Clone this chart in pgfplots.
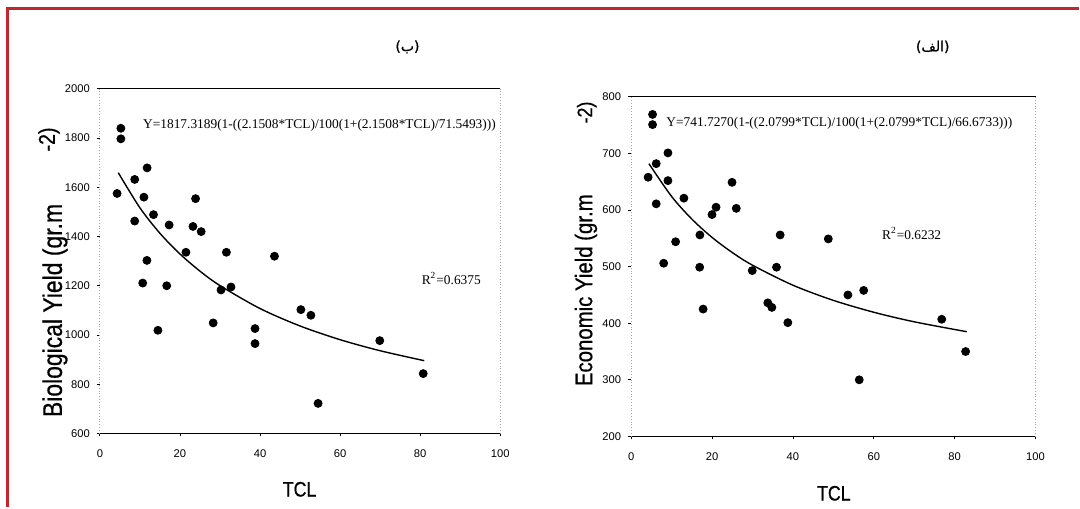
\documentclass[border=0pt]{standalone}
\usepackage{fontspec}
\setmainfont{Liberation Serif}
\setsansfont{Liberation Sans}
\newfontfamily\labelfont[FakeStretch=0.85, FakeBold=0.6]{Liberation Sans}
\newfontfamily\arabicfont[Script=Arabic, FakeBold=0.8]{DejaVu Sans}
\TeXXeTstate=1
\usepackage{pgfplots}
\pgfplotsset{compat=1.18}
\definecolor{frame}{RGB}{193,39,45}

% biological yield (b)
\pgfplotstableread{
x y
5.25 1840
5.25 1797
4.3 1575
8.7 1632
11.8 1679
11.0 1560
8.7 1463
13.4 1489
17.3 1447
23.9 1554
23.25 1441
25.3 1420
21.5 1336
31.6 1336
43.6 1320
11.75 1303
10.7 1211
16.7 1200
14.5 1019
28.3 1049
30.25 1183
32.75 1195
38.75 1026
38.75 965
50.2 1103
52.7 1080
69.9 977
80.75 843
54.5 722
}\biodata

\pgfplotstableread{
x y
4.6 1659.3
10 1516.8
15 1413.2
20 1329.1
25 1259.4
30 1200.7
40 1107.4
50 1036.5
60 980.8
70 935.9
81 895.6
}\biofit

% economic yield (alef)
\pgfplotstableread{
x y
5.3 769
5.3 751
4.2 658
6.2 682
9.1 701
9.1 652
6.2 611
13.05 621
11.0 544
8.05 506
17.0 556
16.95 499
20.0 592
21.0 605
24.95 649
26.0 603
36.85 556
29.95 493
35.95 499
17.8 425
33.8 436
34.8 428
38.75 401
48.75 549
53.6 450
57.5 458
76.8 407
82.7 350
56.4 300
}\ecodata

\pgfplotstableread{
x y
4.4 682.0
10 624.1
15 584.1
20 551.7
25 525.0
30 502.6
40 467.2
50 440.4
60 419.4
70 402.5
83 385.0
}\ecofit

\pgfplotsset{
  yieldaxis/.style={
    scale only axis,
    xmin=0, xmax=100,
    xtick={0,20,...,100},
    tick align=outside,
    xtick pos=lower, ytick pos=lower,
    major tick length=1.5pt,
    axis line style={draw=none},
    tick style={black, line width=0.4pt},
    ticklabel style={font=\sffamily\fontsize{5.6}{6.5}\selectfont},
    xticklabel style={yshift=-3pt},
    /pgf/number format/assume math mode=true,
    /pgf/number format/1000 sep={},
    clip=false,
  },
  dots/.style={only marks, mark=*, mark size=2pt, black},
  fit/.style={no marks, black, line width=0.7pt, smooth},
}

\begin{document}
\begin{tikzpicture}
\path (0,0) rectangle (540pt,-254pt);

\begin{axis}[yieldaxis, at={(50pt,-217pt)}, anchor=south west,
  width=200.5pt, height=172.5pt,
  ymin=600, ymax=2000, ytick={600,800,...,2000}]
  \addplot[dots] table[x=x, y=y] {\biodata};
  \addplot[fit] table[x=x, y=y] {\biofit};
  \draw[black, line width=0.6pt] (rel axis cs:0,0) -- (rel axis cs:1,0);
  \draw[black, line width=0.6pt] (rel axis cs:0,1) -- (rel axis cs:1,1);
  \draw[gray!70, densely dotted, line width=0.4pt] (rel axis cs:0,0) -- (rel axis cs:0,1);
  \draw[gray!70, densely dotted, line width=0.4pt] (rel axis cs:1,0) -- (rel axis cs:1,1);
\end{axis}

\begin{axis}[yieldaxis, at={(316pt,-218.5pt)}, anchor=south west,
  width=202.5pt, height=170pt,
  ymin=200, ymax=800, ytick={200,300,...,800}]
  \addplot[dots] table[x=x, y=y] {\ecodata};
  \addplot[fit] table[x=x, y=y] {\ecofit};
  \draw[black, line width=0.6pt] (rel axis cs:0,0) -- (rel axis cs:1,0);
  \draw[black, line width=0.6pt] (rel axis cs:0,1) -- (rel axis cs:1,1);
  \draw[gray!70, densely dotted, line width=0.4pt] (rel axis cs:0,0) -- (rel axis cs:0,1);
  \draw[gray!70, densely dotted, line width=0.4pt] (rel axis cs:1,0) -- (rel axis cs:1,1);
\end{axis}

\begin{scope}[x=0.5pt, y=-0.5pt]
  % red frame
  \draw[frame, line width=1.5pt] (8,508) -- (8,9) -- (1080,9);

  % panel letters
  \node[font=\arabicfont\fontsize{7}{8}\selectfont] at (408,47) {(ب)};
  \node[font=\arabicfont\fontsize{7}{8}\selectfont] at (934,47) {(الف)};

  % equations and R2
  \node[anchor=west, inner sep=0, font=\fontsize{6.7}{8}\selectfont] at (143,125)
    {Y=1817.3189(1-((2.1508*TCL)/100(1+(2.1508*TCL)/71.5493)))};
  \node[anchor=west, inner sep=0, font=\fontsize{6.7}{8}\selectfont] at (422,279)
    {R\textsuperscript{2}=0.6375};
  \node[anchor=west, inner sep=0, font=\fontsize{6.7}{8}\selectfont] at (667,123)
    {Y=741.7270(1-((2.0799*TCL)/100(1+(2.0799*TCL)/66.6733)))};
  \node[anchor=west, inner sep=0, font=\fontsize{6.7}{8}\selectfont] at (883,234)
    {R\textsuperscript{2}=0.6232};

  % axis titles
  \node[font=\labelfont\fontsize{10.5}{12}\selectfont] at (300,490) {TCL};
  \node[font=\labelfont\fontsize{10.5}{12}\selectfont] at (835,494) {TCL};
  \node[rotate=90, anchor=base west, inner sep=0, font=\labelfont\fontsize{13.5}{15}\selectfont] at (62,418)
    {Biological Yield (gr.m};
  \node[rotate=90, anchor=base west, inner sep=0, font=\labelfont\fontsize{11.5}{13}\selectfont] at (55,152)
    {-2)};
  \node[rotate=90, anchor=base west, inner sep=0, font=\labelfont\fontsize{12}{14}\selectfont] at (593,387)
    {Economic Yield (gr.m};
  \node[rotate=90, anchor=base west, inner sep=0, font=\labelfont\fontsize{10.5}{12}\selectfont] at (593,124)
    {-2)};
\end{scope}
\end{tikzpicture}
\end{document}
